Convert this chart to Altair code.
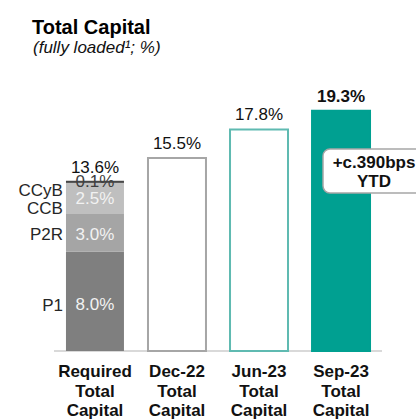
import altair as alt
import pandas as pd

# ---------------- data ----------------
categories = ["Required", "Dec-22", "Jun-23", "Sep-23"]
cat_labels = ["Required\nTotal\nCapital", "Dec-22\nTotal\nCapital",
              "Jun-23\nTotal\nCapital", "Sep-23\nTotal\nCapital"]
segments = ["P1", "P2R", "CCB", "CCyB"]
segment_values = [8.0, 3.0, 2.5, 0.1]
segment_labels = ["8.0%", "3.0%", "2.5%", "0.1%"]
required_total = [13.6]
required_total_label = ["13.6%"]
actual_categories = ["Dec-22", "Jun-23", "Sep-23"]
actual_values = [15.5, 17.8, 19.3]
actual_labels = ["15.5%", "17.8%", "19.3%"]
callout_text = ["+c.390bps\nYTD"]
title_text = ["Total Capital"]
subtitle_text = ["(fully loaded\u00b9; %)"]

# ---------------- styles ----------------
FONT = "Liberation Sans"
W, H = 328, 249
seg_colors = ["#7f7f7f", "#a5a5a5", "#bfbfbf", "#bfbfbf"]
seg_text_colors = {"P1": "#f2f2f2", "P2R": "#f2f2f2", "CCB": "#f2f2f2", "CCyB": "#404040"}
seg_text_dy = {"P1": 4, "P2R": 2, "CCB": 1, "CCyB": 0}
left_label_dy = {"P1": 5, "P2R": 2, "CCB": 11, "CCyB": 9}

xscale = alt.Scale(domain=categories, paddingInner=0.293, paddingOuter=0.146)
yscale = alt.Scale(domain=[0, 20])


def X(f):
    return alt.X(f, type="nominal", scale=xscale, axis=None)


seg_df = pd.DataFrame({
    "cat": ["Required"] * len(segments),
    "seg": segments,
    "value": segment_values,
    "label": segment_labels,
    "order": list(range(len(segments))),
})
req_df = pd.DataFrame({"cat": ["Required"], "total": required_total, "label": required_total_label})
act_df = pd.DataFrame({"cat": actual_categories, "value": actual_values, "label": actual_labels})
lab_df = pd.DataFrame({"cat": categories, "label": cat_labels})

layers = []

# baseline
layers.append(
    alt.Chart(pd.DataFrame({"z": [0]})).mark_rule(color="#d9d9d9", strokeWidth=2).encode(
        y=alt.Y("z:Q", scale=yscale, axis=None), x=alt.value(0), x2=alt.value(W)
    )
)

seg_base = alt.Chart(seg_df).transform_stack(
    stack="value", groupby=["cat"], as_=["y0", "y1"], sort=[alt.SortField("order")]
).transform_calculate(mid="(datum.y0 + datum.y1) / 2")

layers.append(
    seg_base.mark_bar().encode(
        x=X("cat"),
        y=alt.Y("y0:Q", scale=yscale, axis=None),
        y2="y1:Q",
        color=alt.Color("seg:N", scale=alt.Scale(domain=segments, range=seg_colors), legend=None),
    )
)

# black line at top of required
layers.append(
    alt.Chart(req_df).mark_tick(color="#000000", thickness=2, size=58).encode(
        x=X("cat"), y=alt.Y("total:Q", scale=yscale, axis=None)
    )
)

for s in segments:
    filt = alt.datum.seg == s
    layers.append(
        seg_base.transform_filter(filt).mark_text(
            font=FONT, fontSize=17, color=seg_text_colors[s], baseline="middle",
            dy=seg_text_dy[s]
        ).encode(x=X("cat"), y=alt.Y("mid:Q", scale=yscale, axis=None), text="label:N")
    )
    layers.append(
        seg_base.transform_filter(filt).mark_text(
            font=FONT, fontSize=17, color="#262626", baseline="middle", align="right",
            dx=-32, dy=left_label_dy[s]
        ).encode(x=X("cat"), y=alt.Y("mid:Q", scale=yscale, axis=None), text="seg:N")
    )

# required total label
layers.append(
    alt.Chart(req_df).mark_text(font=FONT, fontSize=17, color="#111111",
                                baseline="alphabetic", dy=-9).encode(
        x=X("cat"), y=alt.Y("total:Q", scale=yscale, axis=None), text="label:N"
    )
)

# actual bars
layers.append(
    alt.Chart(act_df).mark_bar(strokeWidth=2).encode(
        x=X("cat"),
        y=alt.Y("value:Q", scale=yscale, axis=None),
        fill=alt.Fill("cat:N", scale=alt.Scale(domain=actual_categories,
                                                range=["#ffffff", "#ffffff", "#00a091"]), legend=None),
        stroke=alt.Stroke("cat:N", scale=alt.Scale(domain=actual_categories,
                                                    range=["#a6a6a6", "#5fbab1", "#00a091"]), legend=None),
    )
)
for cat_name, weight in zip(actual_categories, ["normal", "normal", "bold"]):
    layers.append(
        alt.Chart(act_df).transform_filter(alt.datum.cat == cat_name).mark_text(
            font=FONT, fontSize=17, color="#111111", fontWeight=weight,
            baseline="alphabetic", dy=-9
        ).encode(x=X("cat"), y=alt.Y("value:Q", scale=yscale, axis=None), text="label:N")
    )

# category labels
layers.append(
    alt.Chart(lab_df).mark_text(font=FONT, fontSize=17, fontWeight="bold", color="#111111",
                                baseline="alphabetic", lineBreak="\n", lineHeight=19.5).encode(
        x=X("cat"), y=alt.value(H + 26), text="label:N"
    )
)

# callout box
layers.append(
    alt.Chart(pd.DataFrame({"t": callout_text})).mark_rect(
        fill="#ffffff", stroke="#a6a6a6", strokeWidth=1.5, cornerRadius=7
    ).encode(x=alt.value(269), x2=alt.value(400), y=alt.value(47), y2=alt.value(91))
)
layers.append(
    alt.Chart(pd.DataFrame({"t": callout_text})).mark_text(
        font=FONT, fontSize=17, fontWeight="bold", color="#111111", baseline="alphabetic",
        lineBreak="\n", lineHeight=19
    ).encode(x=alt.value(320), y=alt.value(66), text="t:N")
)

# titles
layers.append(
    alt.Chart(pd.DataFrame({"t": title_text})).mark_text(
        font=FONT, fontSize=20, fontWeight="bold", color="#000000", align="left",
        baseline="alphabetic"
    ).encode(x=alt.value(-22), y=alt.value(-68), text="t:N")
)
layers.append(
    alt.Chart(pd.DataFrame({"t": subtitle_text})).mark_text(
        font=FONT, fontSize=17, fontStyle="italic", color="#111111", align="left",
        baseline="alphabetic"
    ).encode(x=alt.value(-21), y=alt.value(-49), text="t:N")
)

chart = alt.layer(*layers).properties(
    width=W, height=H,
    background="#ffffff",
    autosize=alt.AutoSizeParams(type="none"),
    padding={"left": 54, "top": 102, "right": 34, "bottom": 68},
).configure_view(stroke=None)

chart.save("out.html", embed_options={"renderer": "svg", "actions": False})
